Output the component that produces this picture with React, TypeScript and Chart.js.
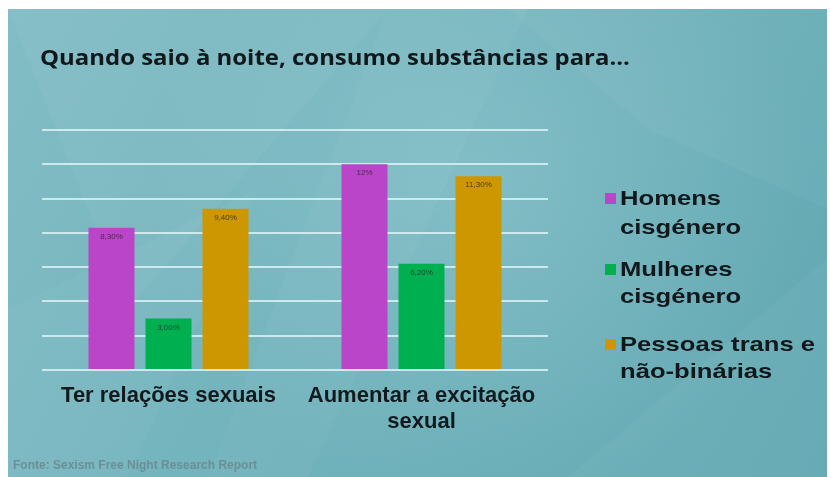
import React, { useEffect, useRef } from "react";
import { Chart, registerables } from "chart.js";

Chart.register(...registerables);

// ---- data ----
const titleText = "Quando saio à noite, consumo substâncias para...";
const sourceText = "Fonte: Sexism Free Night Research Report";
const categories: string[][] = [["Ter relações sexuais"], ["Aumentar a excitação", "sexual"]];
const seriesNames = ["Homens cisgénero", "Mulheres cisgénero", "Pessoas trans e não-binárias"];
const legendLines: string[][] = [
  ["Homens", "cisgénero"],
  ["Mulheres", "cisgénero"],
  ["Pessoas trans e", "não-binárias"],
];
const homens = [8.3, 12];
const mulheres = [3.0, 6.2];
const pessoas = [9.4, 11.3];
const homensLabels = ["8,30%", "12%"];
const mulheresLabels = ["3,00%", "6,20%"];
const pessoasLabels = ["9,40%", "11,30%"];
const yMin = 0;
const yMax = 14;
const yStep = 2;

const colors = ["#bb45c9", "#00b050", "#cc9700"];

const W = 819;
const H = 468;

const bgPlugin = {
  id: "slideBg",
  beforeDraw(chart: any) {
    const { ctx } = chart;
    ctx.save();
    const g = ctx.createLinearGradient(0, 0, W, H);
    g.addColorStop(0, "#82bdc5");
    g.addColorStop(0.45, "#72b3bc");
    g.addColorStop(1, "#62a8b2");
    ctx.fillStyle = g;
    ctx.fillRect(0, 0, W, H);
    const r = ctx.createRadialGradient(470, 170, 10, 470, 170, 330);
    r.addColorStop(0, "rgba(170,215,222,0.3)");
    r.addColorStop(1, "rgba(170,215,222,0)");
    ctx.fillStyle = r;
    ctx.fillRect(0, 0, W, H);
    const polys: number[][] = [
      [0, 0, 380, 0, 120, 300],
      [500, 0, 819, 0, 819, 200, 640, 120],
      [380, 0, 520, 0, 300, 468, 200, 468],
      [560, 468, 819, 250, 819, 468],
      [0, 300, 250, 180, 120, 468, 0, 468],
    ];
    const alphas = [0.04, 0.04, 0.035, 0.04, 0.035];
    polys.forEach((p, i) => {
      ctx.beginPath();
      ctx.moveTo(p[0], p[1]);
      for (let k = 2; k < p.length; k += 2) ctx.lineTo(p[k], p[k + 1]);
      ctx.closePath();
      ctx.fillStyle = `rgba(255,255,255,${alphas[i]})`;
      ctx.fill();
    });
    ctx.restore();
  },
};

const labelPlugin = {
  id: "barLabels",
  afterDatasetsDraw(chart: any) {
    const { ctx } = chart;
    const sets = [homensLabels, mulheresLabels, pessoasLabels];
    ctx.save();
    ctx.font = "8px 'Liberation Sans', Arial, sans-serif";
    ctx.textAlign = "center";
    ctx.textBaseline = "middle";
    ctx.fillStyle = "rgba(45,35,40,0.8)";
    chart.data.datasets.forEach((_: any, di: number) => {
      const meta = chart.getDatasetMeta(di);
      meta.data.forEach((bar: any, i: number) => {
        ctx.fillText(sets[di][i], bar.x, bar.y + 9);
      });
    });
    ctx.restore();
  },
};

export default function App() {
  const ref = useRef<HTMLCanvasElement | null>(null);

  useEffect(() => {
    if (!ref.current) return;
    const chart = new Chart(ref.current, {
      type: "bar",
      data: {
        labels: categories,
        datasets: [
          { label: seriesNames[0], data: homens, backgroundColor: colors[0] },
          { label: seriesNames[1], data: mulheres, backgroundColor: colors[1] },
          { label: seriesNames[2], data: pessoas, backgroundColor: colors[2] },
        ],
      },
      options: {
        responsive: false,
        animation: false,
        events: [],
        datasets: { bar: { categoryPercentage: 0.676, barPercentage: 0.807 } },
        layout: { padding: { left: 34, right: 279, top: 121, bottom: 27 } },
        plugins: {
          legend: { display: false },
          title: { display: false },
          tooltip: { enabled: false },
        },
        scales: {
          x: {
            grid: { display: false },
            border: { display: false },
            ticks: {
              color: "#121a1e",
              padding: 5,
              font: { family: "'Liberation Sans', Arial, sans-serif", size: 22, weight: "bold", lineHeight: 1.18 },
              maxRotation: 0,
              autoSkip: false,
            },
            afterFit: (s: any) => {
              s.height = 80;
            },
          },
          y: {
            min: yMin,
            max: yMax,
            ticks: { display: false, stepSize: yStep },
            border: { display: false },
            grid: { color: "rgba(214,238,243,0.9)", lineWidth: 2, drawTicks: false },
            afterFit: (s: any) => {
              s.width = 0;
            },
          },
        },
      },
      plugins: [bgPlugin, labelPlugin],
    });
    return () => chart.destroy();
  }, []);

  const legendTops = [
    [179, 208],
    [250, 277],
    [325, 352],
  ];

  return (
    <div style={{ position: "fixed", left: 8, top: 9, width: W, height: H, overflow: "hidden" }}>
      <canvas ref={ref} width={W} height={H} style={{ display: "block", width: W, height: H }} />
      <div
        style={{
          position: "absolute",
          left: 32,
          top: 38,
          fontFamily: "'Open Sans', sans-serif",
          fontWeight: 700,
          fontSize: 21,
          lineHeight: "21px",
          color: "#10181c",
          whiteSpace: "nowrap",
          transform: "scaleX(1.14)",
          transformOrigin: "left center",
        }}
      >
        {titleText}
      </div>
      {legendLines.map((lines, i) => (
        <React.Fragment key={i}>
          <div
            style={{
              position: "absolute",
              left: 597,
              top: legendTops[i][0] + 5,
              width: 11,
              height: 11,
              background: colors[i],
            }}
          />
          {lines.map((t, j) => (
            <div
              key={j}
              style={{
                position: "absolute",
                left: 612,
                top: legendTops[i][j],
                fontFamily: "'Liberation Sans', Arial, sans-serif",
                fontWeight: 700,
                fontSize: 21,
                lineHeight: "20px",
                color: "#10181c",
                whiteSpace: "nowrap",
                transform: "scaleX(1.22)",
                transformOrigin: "left center",
              }}
            >
              {t}
            </div>
          ))}
        </React.Fragment>
      ))}
      <div
        style={{
          position: "absolute",
          left: 5,
          top: 450,
          fontFamily: "'Liberation Sans', Arial, sans-serif",
          fontWeight: 700,
          fontSize: 12,
          lineHeight: "12px",
          color: "#6b8f98",
          whiteSpace: "nowrap",
        }}
      >
        {sourceText}
      </div>
    </div>
  );
}
